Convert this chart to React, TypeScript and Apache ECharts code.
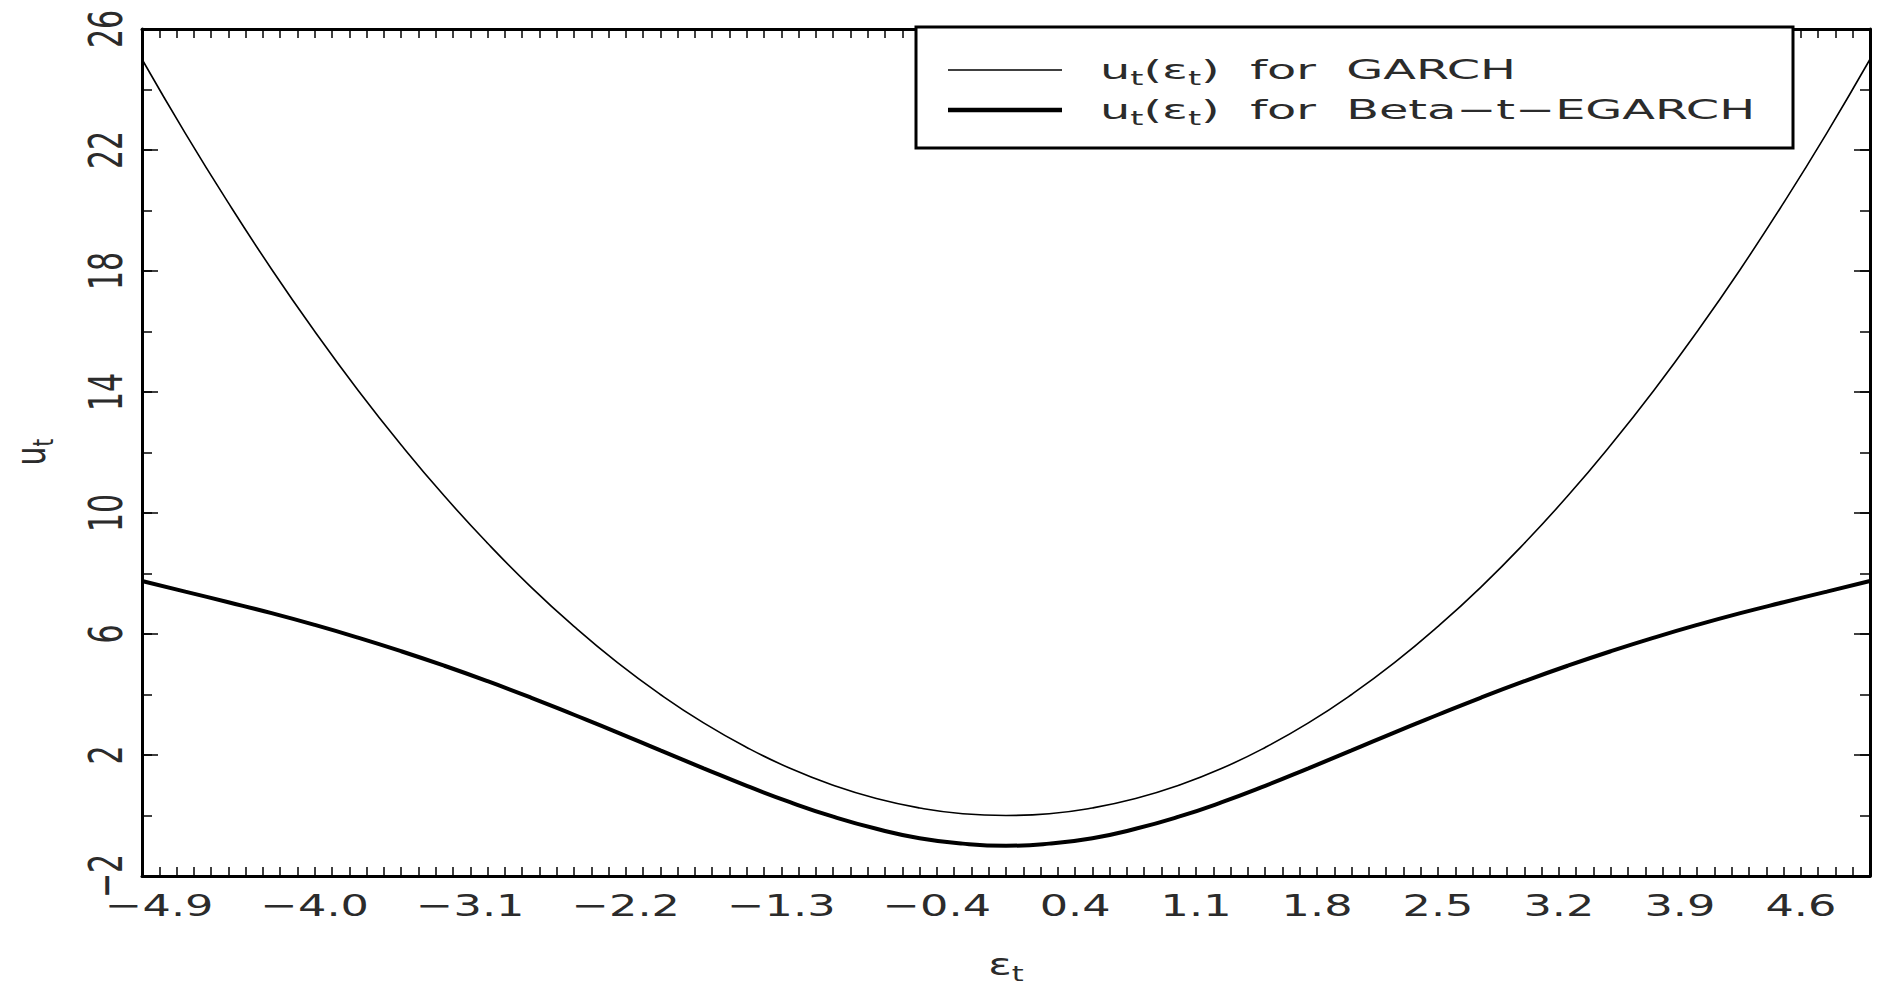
import React, { useEffect, useRef } from "react";
import * as echarts from "echarts";

// ---- data ----
const epsGrid = [
  -5, -4.75, -4.5, -4.25, -4, -3.75, -3.5, -3.25, -3, -2.75, -2.5, -2.25, -2, -1.75, -1.5, -1.25, -1, -0.75, -0.5, -0.25,
  0, 0.25, 0.5, 0.75, 1, 1.25, 1.5, 1.75, 2, 2.25, 2.5, 2.75, 3, 3.25, 3.5, 3.75, 4, 4.25, 4.5, 4.75, 5,
];
const garchValues = [
  25.0, 22.56, 20.25, 18.06, 16.0, 14.06, 12.25, 10.56, 9.0, 7.56, 6.25, 5.06, 4.0, 3.06, 2.25, 1.56, 1.0, 0.56, 0.25, 0.06,
  0.0, 0.06, 0.25, 0.56, 1.0, 1.56, 2.25, 3.06, 4.0, 5.06, 6.25, 7.56, 9.0, 10.56, 12.25, 14.06, 16.0, 18.06, 20.25, 22.56, 25.0,
];
const betaValues = [
  7.75, 7.4, 7.05, 6.69, 6.3, 5.88, 5.43, 4.95, 4.44, 3.9, 3.33, 2.75, 2.15, 1.56, 0.98, 0.44, -0.04, -0.44, -0.75, -0.93,
  -1.0, -0.93, -0.75, -0.44, -0.04, 0.44, 0.98, 1.56, 2.15, 2.75, 3.33, 3.9, 4.44, 4.95, 5.43, 5.88, 6.3, 6.69, 7.05, 7.4, 7.75,
];
const xTickValues = [-4.9, -4.0, -3.1, -2.2, -1.3, -0.4, 0.4, 1.1, 1.8, 2.5, 3.2, 3.9, 4.6];
const xTickLabels = ["−4.9", "−4.0", "−3.1", "−2.2", "−1.3", "−0.4", "0.4", "1.1", "1.8", "2.5", "3.2", "3.9", "4.6"];
const yTickValues = [-2, 2, 6, 10, 14, 18, 22, 26];
const yTickLabels = ["−2", "2", "6", "10", "14", "18", "22", "26"];
const seriesNames = ["ut(εt) for GARCH", "ut(εt) for Beta-t-EGARCH"];
const legendRich = ["{n|u}{s|t}{n|(ε}{s|t}{n|)  for  GARCH}", "{n|u}{s|t}{n|(ε}{s|t}{n|)  for  Beta−t−EGARCH}"];

const X_MIN = -5;
const X_MAX = 5;
const Y_MIN = -2;
const Y_MAX = 26;

const FONT = "DejaVu Sans";
const TXT = "#2b2b2b";

export default function App() {
  const ref = useRef<HTMLDivElement>(null);

  useEffect(() => {
    if (!ref.current) return;
    const chart = echarts.init(ref.current, null, { renderer: "svg" });

    const axisLine = { show: true, onZero: false, lineStyle: { color: "#000", width: 3 } };
    const xAxisBase = {
      type: "value",
      min: X_MIN,
      max: X_MAX,
      interval: 0.1,
      axisLine,
      axisTick: { show: true, inside: true, length: 9, lineStyle: { color: "#000", width: 1.5 } },
      axisLabel: { show: false },
      splitLine: { show: false },
    };
    const yMinor = {
      type: "value",
      min: Y_MIN,
      max: Y_MAX,
      interval: 2,
      axisLine,
      axisTick: { show: true, inside: true, length: 10, lineStyle: { color: "#000", width: 1.5 } },
      axisLabel: { show: false },
      splitLine: { show: false },
    };
    const yMajor = {
      type: "value",
      min: Y_MIN,
      max: Y_MAX,
      axisLine: { show: false, onZero: false },
      axisTick: { show: true, inside: true, length: 16, customValues: yTickValues, lineStyle: { color: "#000", width: 1.5 } },
      axisLabel: { show: false },
      splitLine: { show: false },
    };

    const subStyle = { fontSize: 19, fontFamily: FONT, fill: TXT, lineHeight: 18, verticalAlign: "bottom" };
    const mainStyle = { fontSize: 27, fontFamily: FONT, fill: TXT, lineHeight: 36, verticalAlign: "middle" };

    const option = {
      animation: false,
      backgroundColor: "#fff",
      grid: { left: 142, right: 11, top: 29, bottom: 112, containLabel: false },
      xAxis: [
        { ...xAxisBase, position: "bottom" },
        { ...xAxisBase, position: "top" },
      ],
      yAxis: [
        { ...yMinor, position: "left" },
        { ...yMajor, position: "left" },
        { ...yMinor, position: "right" },
        { ...yMajor, position: "right" },
      ],
      series: [
        {
          name: seriesNames[0],
          type: "line",
          xAxisIndex: 0,
          yAxisIndex: 0,
          data: epsGrid.map((x, i) => [x, garchValues[i]]),
          smooth: true,
          symbol: "none",
          showSymbol: false,
          lineStyle: { color: "#000", width: 1.6 },
          z: 3,
        },
        {
          name: seriesNames[1],
          type: "line",
          xAxisIndex: 0,
          yAxisIndex: 0,
          data: epsGrid.map((x, i) => [x, betaValues[i]]),
          smooth: true,
          symbol: "none",
          showSymbol: false,
          lineStyle: { color: "#000", width: 4 },
          z: 3,
        },
        {
          type: "custom",
          xAxisIndex: 0,
          yAxisIndex: 0,
          clip: false,
          silent: true,
          data: xTickValues.map((v) => [v, Y_MIN]),
          renderItem: (params: any, api: any) => {
            const p = api.coord([api.value(0), api.value(1)]);
            return {
              type: "text",
              x: p[0],
              y: p[1] + 29,
              scaleX: 1.44,
              style: {
                text: xTickLabels[params.dataIndex],
                fontSize: 31,
                fontFamily: FONT,
                fill: TXT,
                align: "center",
                verticalAlign: "middle",
              },
            };
          },
          z: 10,
        },
        {
          type: "custom",
          xAxisIndex: 0,
          yAxisIndex: 0,
          clip: false,
          silent: true,
          data: yTickValues.map((v) => [X_MIN, v]),
          renderItem: (params: any, api: any) => {
            const p = api.coord([api.value(0), api.value(1)]);
            return {
              type: "text",
              x: p[0] - 36,
              y: p[1],
              rotation: Math.PI / 2,
              scaleY: 1.55,
              style: {
                text: yTickLabels[params.dataIndex],
                fontSize: 30,
                fontFamily: FONT,
                fill: TXT,
                align: "center",
                verticalAlign: "middle",
              },
            };
          },
          z: 10,
        },
      ],
      graphic: [
        {
          type: "rect",
          z: 100,
          shape: { x: 916, y: 27, width: 877, height: 121 },
          style: { fill: "#fff", stroke: "#000", lineWidth: 3 },
        },
        {
          type: "line",
          z: 101,
          shape: { x1: 948, y1: 70, x2: 1062, y2: 70 },
          style: { stroke: "#000", lineWidth: 1.6 },
        },
        {
          type: "line",
          z: 101,
          shape: { x1: 948, y1: 110, x2: 1062, y2: 110 },
          style: { stroke: "#000", lineWidth: 4.5 },
        },
        {
          type: "text",
          z: 101,
          x: 1100,
          y: 70,
          scaleX: 1.77,
          style: {
            text: legendRich[0],
            align: "left",
            verticalAlign: "middle",
            rich: { n: mainStyle, s: subStyle },
          },
        },
        {
          type: "text",
          z: 101,
          x: 1100,
          y: 110,
          scaleX: 1.77,
          style: {
            text: legendRich[1],
            align: "left",
            verticalAlign: "middle",
            rich: { n: mainStyle, s: subStyle },
          },
        },
        {
          type: "text",
          z: 101,
          x: 1006,
          y: 946,
          scaleX: 1.45,
          style: {
            text: "{n|ε}{s|t}",
            align: "center",
            verticalAlign: "top",
            rich: {
              n: { fontSize: 30, fontFamily: FONT, fill: TXT, lineHeight: 38, verticalAlign: "middle" },
              s: { fontSize: 21, fontFamily: FONT, fill: TXT, lineHeight: 19, verticalAlign: "bottom" },
            },
          },
        },
        {
          type: "text",
          z: 101,
          x: 30,
          y: 452,
          rotation: Math.PI / 2,
          scaleY: 1.45,
          style: {
            text: "{n|u}{s|t}",
            align: "center",
            verticalAlign: "middle",
            rich: {
              n: { fontSize: 30, fontFamily: FONT, fill: TXT, lineHeight: 38, verticalAlign: "middle" },
              s: { fontSize: 20, fontFamily: FONT, fill: TXT, lineHeight: 18, verticalAlign: "bottom" },
            },
          },
        },
      ],
    };

    chart.setOption(option as any);
    return () => {
      chart.dispose();
    };
  }, []);

  return (
    <div
      ref={ref}
      style={{ position: "fixed", left: 0, top: 0, width: 1881, height: 988, background: "#fff" }}
    />
  );
}
